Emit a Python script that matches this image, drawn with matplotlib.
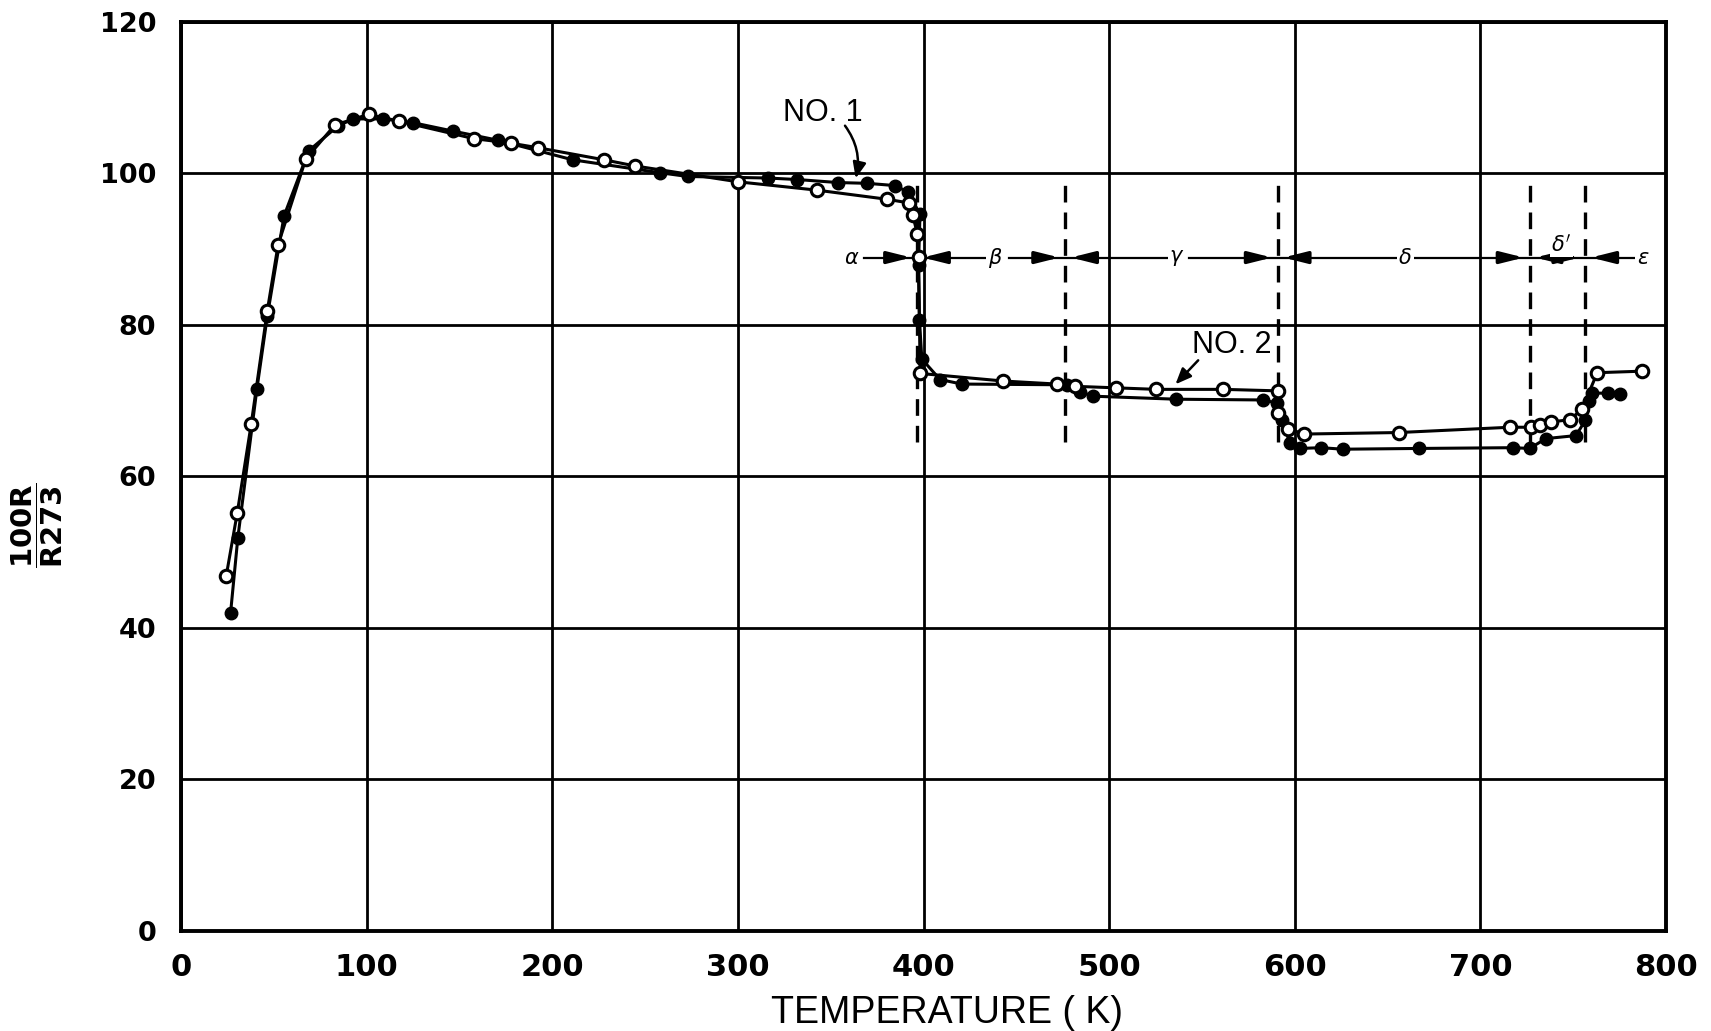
import matplotlib
matplotlib.use("Agg")
import matplotlib.pyplot as plt

# sample NO. 1 (filled circles)
t_filled = [26.7, 30.6, 40.9, 46.5, 55.5, 68.8, 84.7, 92.8, 109, 125, 146.4, 170.5,
            211, 258, 273, 316, 332, 354, 369.6, 384.7, 391.9, 398.1, 397.3, 397.8,
            399.1, 408.9, 420.6, 477.2, 484.4, 491.2, 536.1, 582.8, 590.3, 593, 597.5,
            602.9, 614.2, 625.9, 666.7, 717.5, 726.5, 735.3, 751.5, 756.5, 758.5, 760,
            769, 775]
r_filled = [42.0, 51.9, 71.6, 81.2, 94.4, 103.0, 106.3, 107.2, 107.2, 106.7, 105.6, 104.4,
            101.8, 100.1, 99.6, 99.4, 99.2, 98.8, 98.7, 98.4, 97.5, 94.6, 87.9, 80.7,
            75.5, 72.8, 72.2, 72.1, 71.2, 70.6, 70.2, 70.1, 69.7, 67.4, 64.4,
            63.7, 63.8, 63.6, 63.7, 63.8, 63.7, 65.0, 65.4, 67.4, 69.9, 71.0,
            71.0, 70.9]

# sample NO. 2 (open circles)
t_open = [24.3, 30.3, 37.8, 46.5, 52.3, 67.2, 82.9, 101, 117.5, 157.7, 177.7, 192.2,
          228, 244.4, 300, 342.5, 380.2, 392.4, 394.2, 396.7, 397.3, 398.2, 443, 471.8,
          481.7, 503.8, 525.3, 561.6, 591.2, 591.2, 596.6, 605, 655.9, 716.1, 727.3,
          732, 738, 748.4, 754.7, 763, 787]
r_open = [46.8, 55.2, 66.9, 81.9, 90.6, 101.9, 106.4, 107.8, 106.9, 104.6, 104.0, 103.4,
          101.8, 101.0, 98.9, 97.8, 96.6, 96.1, 94.5, 92.0, 89.0, 73.6, 72.6, 72.2,
          71.9, 71.7, 71.5, 71.5, 71.3, 68.4, 66.3, 65.6, 65.8, 66.5, 66.5,
          66.8, 67.2, 67.5, 68.9, 73.7, 73.9]

# phase boundaries and labels
boundaries = [396.5, 476.3, 590.8, 726.5, 756.5]
phase_names = [r'$\alpha$', r'$\beta$', r'$\gamma$', r'$\delta$', r"$\delta'$", r'$\epsilon$']
phase_x = [361.5, 438.5, 536.5, 659.5, 743.5, 787.5]
phase_y = [88.9, 88.9, 88.9, 88.9, 90.6, 88.9]
arrow_r = 88.9
seg_from = [368, 446, 543, 665]
seg_to = [433, 531, 655, 783]

xticks = [0, 100, 200, 300, 400, 500, 600, 700, 800]
yticks = [0, 20, 40, 60, 80, 100, 120]

fig = plt.figure(figsize=(17.11, 10.31), dpi=100)
ax = fig.add_axes([0.1058, 0.097, 0.8679, 0.8817])

ax.set_xlim(0, 800)
ax.set_ylim(0, 120)
ax.set_xticks(xticks)
ax.set_yticks(yticks)
ax.grid(True, color='black', lw=2.0, zorder=1)
ax.set_axisbelow(True)
for s in ax.spines.values():
    s.set_linewidth(2.8)
ax.tick_params(length=0)
ax.tick_params(axis='y', pad=18)
ax.tick_params(axis='x', pad=16)
for lab in ax.get_yticklabels():
    lab.set_fontfamily('DejaVu Sans')
    lab.set_fontweight('bold')
    lab.set_fontsize(19.5)
for lab in ax.get_xticklabels():
    lab.set_fontfamily('DejaVu Sans')
    lab.set_fontweight('bold')
    lab.set_fontsize(22)

ax.set_xlabel('TEMPERATURE ( K)', fontsize=27, family='Liberation Sans', labelpad=6)
ax.xaxis.set_label_coords(0.516, -0.07)
fig.text(0.022, 0.49, r'$\dfrac{\mathbf{100R}}{\mathbf{R273}}$', rotation=90,
         fontsize=21, ha='center', va='center')

# curves
ax.plot(t_filled, r_filled, color='black', lw=2.2, marker='o', ms=9,
        mfc='black', mec='black', zorder=3)
ax.plot(t_open, r_open, color='black', lw=2.2, marker='o', ms=9,
        mfc='white', mec='black', mew=2.2, zorder=4)

# phase boundaries
for b in boundaries:
    ax.plot([b, b], [64.6, 99.3], color='black', lw=2.4, ls=(0, (5, 3)), zorder=2)

for a, b in zip(seg_from, seg_to):
    ax.plot([a, b], [arrow_r, arrow_r], color='black', lw=1.6, zorder=2)
for b in boundaries:
    for side in (-1, 1):
        ax.annotate('', xy=(b + side * 1.5, arrow_r), xytext=(b + side * 14, arrow_r),
                    arrowprops=dict(arrowstyle='-|>,head_length=1.0,head_width=0.25',
                                    color='black', lw=2.5, mutation_scale=14),
                    zorder=5)
for name, px, py in zip(phase_names, phase_x, phase_y):
    ax.text(px, py, name, fontsize=15, ha='center', va='center', zorder=6,
            bbox=dict(facecolor='white', edgecolor='none', pad=1))

# sample labels
ax.text(345.6, 108.0, 'NO. 1', fontsize=22, family='Liberation Sans',
        ha='center', va='center')
ax.annotate('', xy=(363.1, 99.0), xytext=(356.8, 106.6),
            arrowprops=dict(arrowstyle='-|>,head_length=0.6,head_width=0.25',
                            color='black', lw=1.8, mutation_scale=16,
                            connectionstyle='arc3,rad=-0.25'))
ax.text(566.0, 77.4, 'NO. 2', fontsize=22, family='Liberation Sans',
        ha='center', va='center')
ax.annotate('', xy=(534.7, 71.9), xytext=(549.0, 75.6),
            arrowprops=dict(arrowstyle='-|>,head_length=0.6,head_width=0.25',
                            color='black', lw=1.8, mutation_scale=16))

fig.savefig('out.png', dpi=100)
